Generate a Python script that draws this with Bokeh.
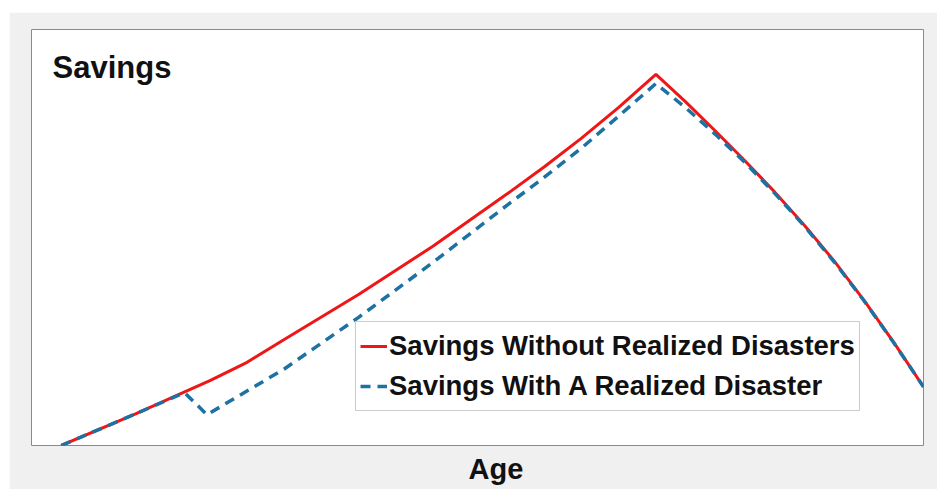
from bokeh.plotting import figure
from bokeh.models import Range1d, Label, Legend, LegendItem, Title
from bokeh.embed import file_html
from bokeh.resources import INLINE

# Data (age vs. savings, arbitrary units)
ages_no_disaster = [25, 30, 33, 35, 37.5, 40, 45, 50, 55, 57.5, 60, 62.5, 65,
                    67, 69, 71, 73, 75, 77, 79, 81, 83]
savings_no_disaster = [0, 7.6, 12.4, 15.6, 20.0, 25.5, 36.3, 47.9, 60.5, 67.0, 73.9, 81.3, 89.2,
                       82.6, 75.6, 68.4, 60.9, 52.9, 44.3, 34.9, 24.8, 14.1]

ages_disaster = [25, 30, 33.3, 34.8, 40, 45, 50, 55, 57.5, 60, 62.5, 65,
                 67, 69, 71, 73, 75, 77, 79, 81, 83]
savings_disaster = [0, 7.6, 12.7, 7.4, 18.4, 30.8, 44.0, 57.8, 64.5, 71.5, 79.2, 87.0,
                    81.2, 74.8, 68.0, 60.6, 52.7, 44.1, 34.8, 24.7, 14.1]

label_no_disaster = "Savings Without Realized Disasters"
label_disaster = "Savings With A Realized Disaster"
title_text = "Savings"
xlabel_text = "Age"

RED = "#ee1616"
BLUE = "#1d72a3"
FONT = "Liberation Sans"

p = figure(width=928, height=477, output_backend="svg", toolbar_location=None,
           x_range=Range1d(23, 83), y_range=Range1d(0, 100),
           min_border_left=22, min_border_right=14, min_border_top=17, min_border_bottom=43)
p.margin = (12, 0, 0, 9)
p.xaxis.visible = False
p.yaxis.visible = False
p.grid.visible = False
p.background_fill_color = "white"
p.border_fill_color = "#f0f0f0"
p.outline_line_color = "#8a8a8a"
p.outline_line_width = 1
p.outline_line_alpha = 1

r_red = p.line(ages_no_disaster, savings_no_disaster, line_color=RED, line_width=3)
r_blue = p.line(ages_disaster, savings_disaster, line_color=BLUE, line_width=3.5, line_dash="10 7")

legend = Legend(items=[LegendItem(label=label_no_disaster, renderers=[r_red]),
                       LegendItem(label=label_disaster, renderers=[r_blue])],
                location=(324, 34), border_line_color="#9a9a9a", border_line_width=1,
                background_fill_color="white", background_fill_alpha=1,
                padding=4, spacing=0, margin=0, label_height=40, glyph_height=40,
                glyph_width=27, label_standoff=2,
                label_text_font=FONT, label_text_font_style="bold",
                label_text_font_size="27.5px", label_text_color="#111111")
p.add_layout(legend)

p.add_layout(Label(x=21, y=378, x_units="screen", y_units="screen", text=title_text,
                   text_font=FONT, text_font_style="bold", text_font_size="31px",
                   text_color="#111111", text_baseline="alphabetic"))

p.add_layout(Title(text=xlabel_text, align="left", offset=437, standoff=10,
                   text_font=FONT, text_font_style="bold", text_font_size="29px",
                   text_color="#111111"), "below")

open("out.html", "w").write(file_html(p, INLINE))
